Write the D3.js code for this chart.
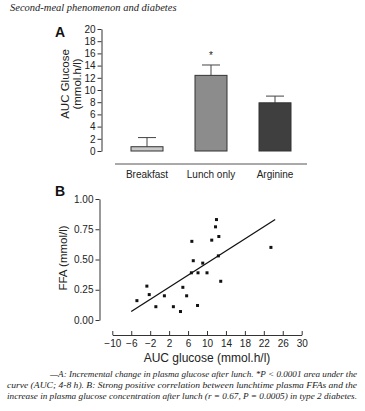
<!DOCTYPE html>
<html><head><meta charset="utf-8">
<script src="https://cdn.jsdelivr.net/npm/d3@7"></script>
<style>
body{margin:0;background:#fff;}
svg{display:block;}
</style></head>
<body>
<svg id="c" width="365" height="411"></svg>
<script>
// Panel A data
const categories = ["Breakfast", "Lunch only", "Arginine"];
const aucMeans = [0.7, 12.4, 7.9];
const aucErrTop = [2.2, 14.1, 9.0];
const barFills = ["#c9c9c9", "#8c8c8c", "#3f3f3f"];
const aTicks = [0, 2, 4, 6, 8, 10, 12, 14, 16, 18, 20];
// Panel B data
const aucX = [-4.8, -2.7, -2.2, -0.8, 1.0, 2.9, 4.4, 4.9, 5.7, 6.8, 7.1, 6.7, 8.1, 8.0, 9.1, 10.0, 11.0, 11.8, 12.0, 12.5, 12.4, 12.9, 23.5];
const ffaY = [0.16, 0.28, 0.21, 0.11, 0.20, 0.11, 0.07, 0.27, 0.20, 0.65, 0.49, 0.39, 0.39, 0.12, 0.47, 0.39, 0.66, 0.77, 0.83, 0.69, 0.53, 0.32, 0.60];
const fitX = [-6, 24.4];
const fitY = [0.07, 0.83];
const bXTicks = [-10, -6, -2, 2, 6, 10, 14, 18, 22, 26, 30];
const bYTicks = [0, 0.25, 0.5, 0.75, 1.0];

const svg = d3.select("#c");
const sans = "'Liberation Sans', Arial, sans-serif";
const serif = "'Liberation Serif', 'DejaVu Serif', serif";

// Header
svg.append("text").attr("x", 10).attr("y", 11).attr("font-family", serif)
  .attr("font-style", "italic").attr("font-size", 10.5).attr("fill", "#222")
  .text("Second-meal phenomenon and diabetes");

// ---------- Panel A ----------
const yA = d3.scaleLinear().domain([0, 20]).range([151, 29]);
const xA = d3.scaleBand().domain(categories).range([115, 307]).paddingInner(0.5).paddingOuter(0.25);

const axA = svg.append("g").attr("transform", "translate(101.5,0)")
  .call(d3.axisLeft(yA).tickValues(aTicks).tickSize(4).tickSizeOuter(0).tickPadding(2));
axA.select(".domain").attr("stroke", "#333");
axA.selectAll(".tick line").attr("stroke", "#333");
axA.selectAll("text").attr("font-family", sans).attr("font-size", 10).attr("fill", "#222");

const gA = svg.append("g");
categories.forEach((c, i) => {
  const x0 = xA(c), w = xA.bandwidth(), xc = x0 + w / 2;
  gA.append("line").attr("x1", xc).attr("x2", xc).attr("y1", yA(aucMeans[i])).attr("y2", yA(aucErrTop[i]))
    .attr("stroke", "#444").attr("stroke-width", 1);
  gA.append("line").attr("x1", xc - 9).attr("x2", xc + 9).attr("y1", yA(aucErrTop[i])).attr("y2", yA(aucErrTop[i]))
    .attr("stroke", "#444").attr("stroke-width", 1);
  gA.append("rect").attr("x", x0).attr("width", w).attr("y", yA(aucMeans[i]))
    .attr("height", yA(0) - yA(aucMeans[i])).attr("fill", barFills[i]).attr("stroke", "#333").attr("stroke-width", 1);
  gA.append("text").attr("x", xc).attr("y", 178).attr("text-anchor", "middle")
    .attr("font-family", sans).attr("font-size", 10).attr("fill", "#222").text(c);
});
// star above Lunch only
svg.append("text").attr("x", xA("Lunch only") + xA.bandwidth() / 2).attr("y", yA(14.1) - 6)
  .attr("text-anchor", "middle").attr("font-family", sans).attr("font-size", 10).attr("fill", "#222").text("*");
// baseline
svg.append("line").attr("x1", 115).attr("x2", 307).attr("y1", 164).attr("y2", 164).attr("stroke", "#555");
// A label
svg.append("text").attr("x", 55).attr("y", 37).attr("font-family", sans).attr("font-weight", "bold")
  .attr("font-size", 14).attr("fill", "#111").text("A");
// y title
const tA = svg.append("text").attr("transform", "translate(69,84) rotate(-90)").attr("text-anchor", "middle")
  .attr("font-family", sans).attr("font-size", 11.5).attr("fill", "#222");
tA.append("tspan").attr("x", 0).attr("y", 0).text("AUC Glucose");
tA.append("tspan").attr("x", 0).attr("y", 12).text("(mmol.h/l)");

// ---------- Panel B ----------
const xB = d3.scaleLinear().domain([-10, 30]).range([112.3, 301.7]);
const yB = d3.scaleLinear().domain([0, 1]).range([320, 199]);

const axBy = svg.append("g").attr("transform", "translate(99.5,0)")
  .call(d3.axisLeft(yB).tickValues(bYTicks).tickFormat(d3.format(".2f")).tickSize(4).tickSizeOuter(0).tickPadding(2));
axBy.select(".domain").attr("stroke", "#333");
axBy.selectAll(".tick line").attr("stroke", "#333");
axBy.selectAll("text").attr("font-family", sans).attr("font-size", 10).attr("fill", "#222");

const axBx = svg.append("g").attr("transform", "translate(0,335)")
  .call(d3.axisTop(xB).tickValues(bXTicks).tickSize(4).tickSizeOuter(0).tickFormat(d3.format("d")));
axBx.select(".domain").attr("stroke", "#333");
axBx.selectAll(".tick line").attr("stroke", "#333");
axBx.selectAll("text").attr("y", 12).attr("dy", "0").attr("font-family", sans).attr("font-size", 10).attr("fill", "#222");

svg.append("line").attr("x1", xB(fitX[0])).attr("y1", yB(fitY[0])).attr("x2", xB(fitX[1])).attr("y2", yB(fitY[1]))
  .attr("stroke", "#111").attr("stroke-width", 1.3);

svg.append("g").selectAll("rect").data(aucX.map((x, i) => [x, ffaY[i]])).join("rect")
  .attr("x", d => xB(d[0]) - 1.5).attr("y", d => yB(d[1]) - 1.5).attr("width", 3).attr("height", 3).attr("fill", "#111");

svg.append("text").attr("x", 55).attr("y", 196).attr("font-family", sans).attr("font-weight", "bold")
  .attr("font-size", 14).attr("fill", "#111").text("B");
svg.append("text").attr("transform", "translate(67,258) rotate(-90)").attr("text-anchor", "middle")
  .attr("font-family", sans).attr("font-size", 11.5).attr("fill", "#222").text("FFA (mmol/l)");
svg.append("text").attr("x", 207).attr("y", 362).attr("text-anchor", "middle")
  .attr("font-family", sans).attr("font-size", 12).attr("fill", "#222").text("AUC glucose (mmol.h/l)");

// Caption
const cap = [
  ["—A: Incremental change in plasma glucose after lunch. *P < 0.0001 area under the", 357],
  ["curve (AUC; 4-8 h). B: Strong positive correlation between lunchtime plasma FFAs and the", 357],
  ["increase in plasma glucose concentration after lunch (r = 0.67, P = 0.0005) in type 2 diabetes.", 357]
];
cap.forEach((c, i) => {
  svg.append("text").attr("x", c[1]).attr("y", 377 + i * 11).attr("text-anchor", "end")
    .attr("font-family", serif).attr("font-style", "italic").attr("font-size", 8.6).attr("fill", "#222")
    .attr("textLength", i === 0 ? 307 : 350).attr("lengthAdjust", "spacingAndGlyphs").text(c[0]);
});
</script>
</body></html>
